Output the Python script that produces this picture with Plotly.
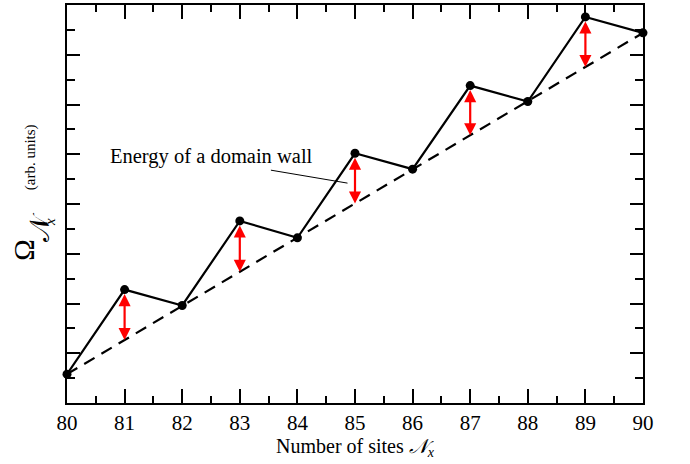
import plotly.graph_objects as go

# Data
n_sites = [80, 81, 82, 83, 84, 85, 86, 87, 88, 89, 90]
omega = [0.58, 2.28, 1.96, 3.66, 3.32, 5.02, 4.70, 6.38, 6.06, 7.76, 7.44]
baseline = [0.58, 1.266, 1.952, 2.638, 3.324, 4.01, 4.696, 5.382, 6.068, 6.754, 7.44]
arrow_sites = [81, 83, 85, 87, 89]
x_tick_vals = [80, 81, 82, 83, 84, 85, 86, 87, 88, 89, 90]
x_tick_text = ["80", "81", "82", "83", "84", "85", "86", "87", "88", "89", "90"]
label_text = "Energy of a domain wall"

FONT = "Liberation Serif, Times New Roman, serif"

L, R, T, B, W, H = 67, 47, 3, 61, 690, 464
PW, PH = W - L - R, H - T - B


def px(xp):
    return (xp - L) / PW


def py(yp):
    return (H - B - yp) / PH


fig = go.Figure()

fig.add_trace(go.Scatter(
    x=[n_sites[0], n_sites[-1]], y=[baseline[0], baseline[-1]],
    mode="lines", line=dict(color="black", width=2.2, dash="12px,8px"),
    hoverinfo="skip", showlegend=False))

fig.add_trace(go.Scatter(
    x=n_sites, y=omega, mode="lines+markers",
    line=dict(color="black", width=2.2),
    marker=dict(color="black", size=9),
    cliponaxis=False, showlegend=False))

annotations = []
for s in arrow_sites:
    i = n_sites.index(s)
    annotations.append(dict(
        x=s, y=baseline[i], ax=s, ay=omega[i] - 0.06,
        xref="x", yref="y", axref="x", ayref="y",
        text="", showarrow=True, arrowhead=2, startarrowhead=2,
        arrowside="end+start", arrowcolor="red", arrowwidth=2.2,
        arrowsize=1.1, startarrowsize=1.1, standoff=0, startstandoff=0))

annotations.append(dict(
    x=82.5, y=4.96, xref="x", yref="y", text=label_text, showarrow=False,
    font=dict(family=FONT, size=20.5, color="black"), xanchor="center", yanchor="middle"))

# y-axis title pieces (rotated)
yt = [
    ("Ω", 29, 24, 249),
    ("𝒩", 27, 40, 226),
    ("<i>x</i>", 15, 50, 221),
    ("(arb. units)", 15, 30, 156),
]
for txt, sz, xp, yp in yt:
    annotations.append(dict(
        x=px(xp), y=py(yp), xref="paper", yref="paper", text=txt,
        textangle=-90, showarrow=False, xanchor="center", yanchor="middle",
        font=dict(family=FONT, size=sz, color="black")))

fig.add_shape(type="line", x0=83.54, y0=4.68, x1=84.87, y1=4.42,
              xref="x", yref="y", line=dict(color="black", width=1))

fig.update_layout(
    width=W, height=H,
    margin=dict(l=L, r=R, t=T, b=B),
    paper_bgcolor="white", plot_bgcolor="white",
    font=dict(family=FONT, size=20, color="black"),
    annotations=annotations,
    xaxis=dict(
        range=[80, 90], tickmode="array", tickvals=x_tick_vals, ticktext=x_tick_text,
        ticks="inside", ticklen=14, tickwidth=2, tickcolor="black",
        showline=True, linecolor="black", linewidth=2, mirror="ticks",
        showgrid=False, zeroline=False,
        tickfont=dict(family=FONT, size=21),
        minor=dict(dtick=0.5, ticks="inside", ticklen=7, tickwidth=2, tickcolor="black", showgrid=False),
        title=dict(text="Number of sites <i>𝒩</i><sub><i>x</i></sub>", font=dict(family=FONT, size=20), standoff=5),
    ),
    yaxis=dict(
        range=[0, 8], dtick=1, tick0=0,
        ticks="inside", ticklen=13, tickwidth=2, tickcolor="black",
        showticklabels=False,
        showline=True, linecolor="black", linewidth=2, mirror="ticks",
        showgrid=False, zeroline=False,
        minor=dict(dtick=0.5, ticks="inside", ticklen=8, tickwidth=2, tickcolor="black", showgrid=False),
    ),
)

fig.write_html("out.html")
